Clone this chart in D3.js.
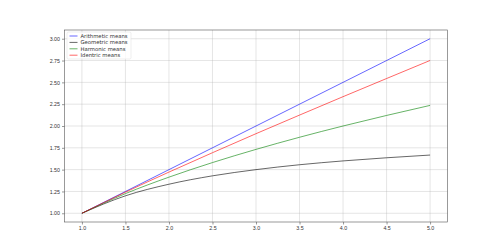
<!DOCTYPE html>
<html lang="en">
<head>
  <meta charset="UTF-8">
  <title>Means of 1 and x</title>
  <script src="https://d3js.org/d3.v7.min.js"></script>
  <style>
    body, html {
      margin: 0;
      padding: 0;
      background: #fff;
    }
    svg {
      display: block;
      font-family: "DejaVu Sans", sans-serif;
    }
    .tick text {
      font-size: 5.3px;
      fill: #333;
    }
    .legend text {
      font-size: 5.3px;
      fill: #333;
    }
  </style>
</head>
<body>
  <svg width="500" height="249"></svg>

  <script>
    // x positions and the four curves
    const xValues = [1.0, 1.5, 2.0, 2.5, 3.0, 3.5, 4.0, 4.5, 5.0];
    const arithmetic = [1.0, 1.25, 1.5, 1.75, 2.0, 2.25, 2.5, 2.75, 3.0];
    const geometric = [1.0, 1.2, 1.333, 1.429, 1.5, 1.556, 1.6, 1.636, 1.667];
    const harmonic = [1.0, 1.225, 1.414, 1.581, 1.732, 1.871, 2.0, 2.121, 2.236];
    const identric = [1.0, 1.242, 1.472, 1.694, 1.912, 2.125, 2.336, 2.544, 2.751];

    const seriesNames = ["Arithmetic means", "Geometric means", "Harmonic means", "Identric means"];
    const seriesColors = ["#0000ff", "#000000", "#008000", "#ff0000"];

    const xTicks = [1.0, 1.5, 2.0, 2.5, 3.0, 3.5, 4.0, 4.5, 5.0];
    const yTicks = [1.0, 1.25, 1.5, 1.75, 2.0, 2.25, 2.5, 2.75, 3.0];

    const series = [arithmetic, geometric, harmonic, identric].map((vals, i) => ({
      name: seriesNames[i],
      color: seriesColors[i],
      points: vals.map((v, j) => ({ x: xValues[j], y: v }))
    }));

    const plotLeft = 64.5, plotRight = 447.5, plotTop = 30, plotBottom = 222;

    const x = d3.scaleLinear().domain([0.8, 5.2]).range([plotLeft, plotRight]);
    const y = d3.scaleLinear().domain([0.9, 3.1]).range([plotBottom, plotTop]);

    const svg = d3.select("svg");

    // grid
    svg.append("g")
      .selectAll("line")
      .data(xTicks)
      .enter().append("line")
      .attr("x1", d => x(d)).attr("x2", d => x(d))
      .attr("y1", plotTop).attr("y2", plotBottom)
      .attr("stroke", "#b0b0b0")
      .attr("stroke-opacity", 0.55)
      .attr("stroke-width", 0.6);

    svg.append("g")
      .selectAll("line")
      .data(yTicks)
      .enter().append("line")
      .attr("x1", plotLeft).attr("x2", plotRight)
      .attr("y1", d => y(d)).attr("y2", d => y(d))
      .attr("stroke", "#b0b0b0")
      .attr("stroke-opacity", 0.55)
      .attr("stroke-width", 0.6);

    // axes
    const xAxis = d3.axisBottom(x)
      .tickValues(xTicks)
      .tickFormat(d3.format(".1f"))
      .tickSize(2.5)
      .tickPadding(2);

    const yAxis = d3.axisLeft(y)
      .tickValues(yTicks)
      .tickFormat(d3.format(".2f"))
      .tickSize(2.5)
      .tickPadding(2);

    const gx = svg.append("g")
      .attr("transform", `translate(0,${plotBottom})`)
      .call(xAxis);
    const gy = svg.append("g")
      .attr("transform", `translate(${plotLeft},0)`)
      .call(yAxis);

    [gx, gy].forEach(g => {
      g.select(".domain").remove();
      g.selectAll(".tick line").attr("stroke", "#333").attr("stroke-width", 0.5);
    });

    // frame
    svg.append("rect")
      .attr("x", plotLeft).attr("y", plotTop)
      .attr("width", plotRight - plotLeft).attr("height", plotBottom - plotTop)
      .attr("fill", "none")
      .attr("stroke", "#555")
      .attr("stroke-width", 0.6);

    // curves
    const line = d3.line()
      .x(d => x(d.x))
      .y(d => y(d.y))
      .curve(d3.curveMonotoneX);

    svg.append("g")
      .selectAll("path")
      .data(series)
      .enter().append("path")
      .attr("d", d => line(d.points))
      .attr("fill", "none")
      .attr("stroke", d => d.color)
      .attr("stroke-width", 0.6);

    // legend
    const legend = svg.append("g")
      .attr("class", "legend")
      .attr("transform", `translate(${plotLeft + 2.5},${plotTop + 2})`);

    legend.append("rect")
      .attr("width", 64).attr("height", 27)
      .attr("rx", 1.5)
      .attr("fill", "#fff")
      .attr("fill-opacity", 0.8)
      .attr("stroke", "#dcdcdc")
      .attr("stroke-width", 0.5);

    const items = legend.selectAll(".item")
      .data(series)
      .enter().append("g")
      .attr("class", "item")
      .attr("transform", (d, i) => `translate(0,${4 + i * 6.4})`);

    items.append("line")
      .attr("x1", 2.5).attr("x2", 10.5)
      .attr("y1", 0).attr("y2", 0)
      .attr("stroke", d => d.color)
      .attr("stroke-width", 0.6);

    items.append("text")
      .attr("x", 13.5)
      .attr("y", 0)
      .attr("dy", "0.35em")
      .text(d => d.name);
  </script>
</body>
</html>
